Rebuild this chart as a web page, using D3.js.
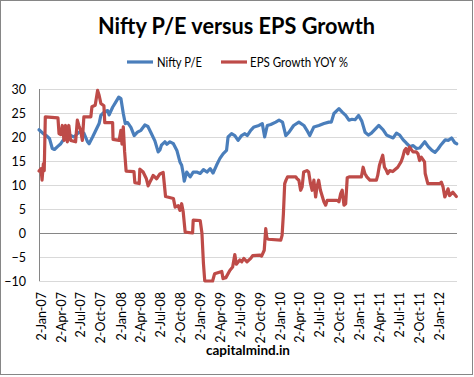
<!DOCTYPE html>
<html><head><meta charset="utf-8">
<script src="https://cdn.jsdelivr.net/npm/d3@7"></script>
<style>body{margin:0;background:#fff;} svg{display:block;}</style>
</head><body>
<svg id="c" width="474" height="377"></svg>
<script>
const title = "Nifty P/E versus EPS Growth";
const seriesNames = ["Nifty P/E", "EPS Growth YOY %"];
const sourceLabel = "capitalmind.in";
const yTicks = [-10, -5, 0, 5, 10, 15, 20, 25, 30];
const xTickDates = ["2007-01-02","2007-04-02","2007-07-02","2007-10-02","2008-01-02","2008-04-02","2008-07-02","2008-10-02","2009-01-02","2009-04-02","2009-07-02","2009-10-02","2010-01-02","2010-04-02","2010-07-02","2010-10-02","2011-01-02","2011-04-02","2011-07-02","2011-10-02","2012-01-02"];
const xTickLabels = ["2-Jan-07","2-Apr-07","2-Jul-07","2-Oct-07","2-Jan-08","2-Apr-08","2-Jul-08","2-Oct-08","2-Jan-09","2-Apr-09","2-Jul-09","2-Oct-09","2-Jan-10","2-Apr-10","2-Jul-10","2-Oct-10","2-Jan-11","2-Apr-11","2-Jul-11","2-Oct-11","2-Jan-12"];

const peDates = ["2007-01-02","2007-01-19","2007-02-04","2007-02-19","2007-03-04","2007-03-14","2007-03-28","2007-04-12","2007-04-27","2007-05-12","2007-05-27","2007-06-12","2007-06-27","2007-07-12","2007-07-27","2007-08-13","2007-08-20","2007-09-05","2007-09-20","2007-10-05","2007-10-13","2007-10-28","2007-11-13","2007-11-20","2007-12-06","2007-12-21","2008-01-03","2008-01-13","2008-01-24","2008-02-02","2008-02-13","2008-02-28","2008-03-14","2008-03-29","2008-04-14","2008-05-02","2008-05-16","2008-05-29","2008-06-17","2008-07-02","2008-07-10","2008-07-17","2008-08-02","2008-08-11","2008-08-25","2008-09-10","2008-09-26","2008-10-10","2008-10-18","2008-10-25","2008-10-30","2008-11-10","2008-11-26","2008-12-10","2008-12-26","2009-01-11","2009-01-26","2009-02-11","2009-02-26","2009-03-11","2009-03-27","2009-04-11","2009-04-26","2009-05-12","2009-05-19","2009-06-04","2009-06-19","2009-07-04","2009-07-20","2009-08-04","2009-08-15","2009-08-31","2009-09-15","2009-10-08","2009-10-23","2009-11-03","2009-11-15","2009-12-01","2009-12-24","2010-01-08","2010-01-24","2010-02-08","2010-02-23","2010-03-16","2010-04-09","2010-05-02","2010-05-16","2010-05-29","2010-06-17","2010-07-10","2010-08-02","2010-08-25","2010-09-05","2010-09-17","2010-10-10","2010-10-25","2010-11-10","2010-11-25","2010-12-09","2010-12-23","2011-01-08","2011-01-23","2011-02-07","2011-02-22","2011-03-08","2011-03-31","2011-04-11","2011-05-01","2011-05-17","2011-05-31","2011-06-16","2011-07-01","2011-07-16","2011-08-01","2011-08-16","2011-09-01","2011-09-16","2011-10-01","2011-10-16","2011-11-08","2011-11-24","2011-12-11","2011-12-25","2012-01-08","2012-01-22","2012-02-10","2012-02-25","2012-03-10","2012-03-25","2012-04-03"];
const peValues = [21.5,20.8,20.3,19.7,17.6,17.4,18.0,18.6,19.6,20.0,20.3,20.0,20.7,21.2,20.8,19.0,18.6,20.0,21.4,22.8,24.5,25.2,25.5,24.6,26.2,27.3,28.3,28.0,24.9,22.8,23.0,22.0,20.3,21.0,21.4,22.5,22.2,21.0,19.2,16.9,17.3,18.3,19.0,18.5,19.0,18.6,17.2,14.8,14.1,12.4,10.8,12.7,11.7,12.7,12.7,12.4,13.2,12.7,13.4,12.5,14.1,15.5,16.5,17.2,20.0,20.7,20.3,19.3,20.3,20.7,20.3,21.4,22.1,22.4,22.8,20.0,22.4,22.6,23.1,23.5,23.1,20.3,21.0,22.4,23.1,22.4,21.4,20.3,22.1,22.4,22.8,23.1,23.1,24.9,25.9,25.2,24.5,23.5,23.7,23.6,24.5,23.3,21.0,20.4,20.8,21.9,22.4,21.5,20.4,20.1,19.8,20.8,20.4,19.4,18.7,18.0,18.2,17.6,17.7,19.0,18.0,17.2,16.8,17.5,18.4,19.4,19.3,19.8,18.8,18.6];

const epsDates = ["2007-01-02","2007-01-11","2007-01-16","2007-01-22","2007-01-26","2007-01-31","2007-03-30","2007-04-04","2007-04-12","2007-04-19","2007-04-27","2007-05-04","2007-05-12","2007-05-19","2007-05-27","2007-06-19","2007-06-27","2007-07-04","2007-07-12","2007-07-20","2007-07-27","2007-08-28","2007-09-02","2007-09-17","2007-09-23","2007-09-28","2007-10-05","2007-10-13","2007-10-27","2007-10-31","2007-12-06","2007-12-08","2008-01-05","2008-01-13","2008-01-18","2008-01-24","2008-01-30","2008-02-06","2008-03-13","2008-03-17","2008-04-06","2008-04-09","2008-04-24","2008-05-09","2008-05-17","2008-05-24","2008-06-02","2008-06-09","2008-06-25","2008-07-10","2008-07-25","2008-08-05","2008-09-10","2008-09-18","2008-10-02","2008-10-10","2008-10-18","2008-10-25","2008-11-03","2008-12-07","2008-12-10","2009-01-11","2009-01-19","2009-01-26","2009-02-01","2009-03-09","2009-03-18","2009-04-20","2009-04-26","2009-05-09","2009-05-27","2009-06-09","2009-06-19","2009-06-26","2009-07-12","2009-07-21","2009-07-30","2009-08-14","2009-08-31","2009-09-09","2009-10-13","2009-10-20","2009-11-01","2009-11-08","2009-11-13","2009-11-19","2010-01-16","2010-01-22","2010-01-28","2010-02-03","2010-02-09","2010-02-16","2010-03-26","2010-04-01","2010-04-09","2010-04-17","2010-04-24","2010-05-01","2010-05-16","2010-05-24","2010-06-01","2010-06-09","2010-06-17","2010-06-25","2010-07-01","2010-07-09","2010-07-17","2010-08-02","2010-08-10","2010-08-17","2010-10-02","2010-10-10","2010-10-18","2010-10-25","2010-11-02","2010-11-10","2010-11-17","2010-11-28","2011-01-21","2011-01-29","2011-02-06","2011-02-15","2011-03-01","2011-03-31","2011-04-06","2011-04-14","2011-04-21","2011-04-29","2011-05-07","2011-05-14","2011-05-22","2011-05-31","2011-06-14","2011-07-07","2011-07-22","2011-07-30","2011-08-07","2011-08-14","2011-08-22","2011-08-30","2011-09-15","2011-09-30","2011-10-08","2011-10-15","2011-10-23","2011-11-07","2011-11-10","2011-11-22","2012-01-16","2012-01-23","2012-01-31","2012-02-08","2012-02-15","2012-02-23","2012-03-01","2012-03-16","2012-04-01"];
const epsValues = [12.9,13.4,11.0,14.4,13.0,24.2,24.0,20.7,20.5,22.4,19.3,22.4,19.0,22.4,19.3,19.0,23.5,22.4,21.4,19.3,24.2,24.2,26.3,26.6,28.3,29.7,28.7,27.0,26.5,23.0,23.0,19.5,19.3,21.4,18.5,22.1,17.0,12.9,12.8,10.5,10.3,13.3,12.7,11.3,9.8,10.5,11.3,12.0,11.3,12.3,12.6,7.6,7.2,5.4,5.7,4.7,6.1,4.4,0.2,0.0,2.7,2.6,0.0,-6.4,-10.0,-10.0,-8.5,-8.0,-9.5,-9.3,-7.8,-7.1,-4.5,-6.5,-5.6,-6.0,-5.3,-6.0,-5.3,-4.7,-4.6,-4.8,-3.6,0.9,-1.0,-1.3,-1.5,-0.5,4.0,10.3,11.0,11.7,11.7,11.3,11.0,8.9,9.6,12.7,13.0,12.7,10.4,8.9,11.0,7.5,9.6,11.0,8.9,6.5,5.8,6.8,6.8,6.5,8.2,8.9,5.8,6.1,11.5,11.7,11.7,13.7,12.4,11.7,11.0,11.0,12.0,14.1,15.1,16.2,13.7,13.2,12.4,13.0,12.8,13.7,14.8,15.8,17.2,17.6,16.5,17.9,16.9,16.9,16.5,15.1,15.8,14.8,12.4,10.3,10.3,10.6,9.6,7.5,8.2,9.2,7.8,8.5,7.6];

const parse = d3.utcParse("%Y-%m-%d");
const FONT = "Lato, 'Open Sans', sans-serif";
const svg = d3.select("#c");
const W = 474, H = 377;

svg.append("rect").attr("x", 0.5).attr("y", 0.5).attr("width", 472).attr("height", 374)
  .attr("fill", "#fff").attr("stroke", "#868686").attr("stroke-width", 1);

const plot = {left: 39, right: 457, top: 89, bottom: 281};
const x = d3.scaleUtc().domain([parse("2007-01-02"), parse("2012-04-04")]).range([plot.left, plot.right]);
const y = d3.scaleLinear().domain([-10, 30]).range([plot.bottom, plot.top]);

// gridlines
svg.append("g").selectAll("line").data(yTicks.filter(t => t !== 0)).join("line")
  .attr("x1", plot.left).attr("x2", plot.right)
  .attr("y1", d => Math.round(y(d)) + 0.5).attr("y2", d => Math.round(y(d)) + 0.5)
  .attr("stroke", "#d9d9d9").attr("stroke-width", 1);

// y axis
const yAxis = d3.axisLeft(y).tickValues(yTicks).tickSize(0).tickPadding(0);
const yg = svg.append("g").attr("transform", `translate(${plot.left - 13},0)`).call(yAxis);
yg.select(".domain").remove();
yg.selectAll("text").attr("font-family", FONT).attr("font-size", 12.5).attr("fill", "#000");
svg.append("line").attr("x1", plot.left + 0.5).attr("x2", plot.left + 0.5)
  .attr("y1", plot.top).attr("y2", plot.bottom).attr("stroke", "#868686");
// zero line
svg.append("line").attr("x1", plot.left).attr("x2", plot.right)
  .attr("y1", Math.round(y(0)) + 0.5).attr("y2", Math.round(y(0)) + 0.5)
  .attr("stroke", "#868686").attr("stroke-width", 1);

// x axis labels (rotated)
const xAxis = d3.axisBottom(x).tickValues(xTickDates.map(parse))
  .tickFormat((d, i) => xTickLabels[i]).tickSize(0).tickPadding(0);
const xg = svg.append("g").attr("transform", `translate(0,${plot.bottom})`).call(xAxis);
xg.select(".domain").remove();
xg.selectAll("text")
  .attr("font-family", FONT).attr("font-size", 12.5).attr("fill", "#000")
  .attr("text-anchor", "end").attr("dy", null).attr("y", 0)
  .attr("dominant-baseline", "central")
  .attr("transform", "translate(2,11) rotate(-90)");

// lines
const line = d3.line().x(d => x(d[0])).y(d => y(d[1]));
const peData = peDates.map((d, i) => [parse(d), peValues[i]]);
const epsData = epsDates.map((d, i) => [parse(d), epsValues[i]]);
const colors = ["#4a7ebb", "#be4b48"];
svg.append("path").datum(peData).attr("d", line).attr("fill", "none")
  .attr("stroke", colors[0]).attr("stroke-width", 3.2).attr("stroke-linejoin", "round").attr("stroke-linecap", "round");
svg.append("path").datum(epsData).attr("d", line).attr("fill", "none")
  .attr("stroke", colors[1]).attr("stroke-width", 3.2).attr("stroke-linejoin", "round").attr("stroke-linecap", "round");

// title
svg.append("text").attr("x", 236.5).attr("y", 34).attr("text-anchor", "middle")
  .attr("font-family", FONT).attr("font-weight", "bold").attr("font-size", 23)
  .attr("textLength", 277).attr("lengthAdjust", "spacingAndGlyphs")
  .text(title);

// legend
const legendItems = [{x: 127, tx: 157, w: 45}, {x: 221, tx: 250, w: 98}];
legendItems.forEach((it, i) => {
  svg.append("line").attr("x1", it.x).attr("x2", it.x + 26).attr("y1", 62).attr("y2", 62)
    .attr("stroke", colors[i]).attr("stroke-width", 3.2);
  svg.append("text").attr("x", it.tx).attr("y", 66.5).attr("font-family", FONT)
    .attr("font-size", 12.5).attr("textLength", it.w).attr("lengthAdjust", "spacingAndGlyphs")
    .text(seriesNames[i]);
});

// source label
svg.append("text").attr("x", 248).attr("y", 355).attr("text-anchor", "middle")
  .attr("font-family", FONT).attr("font-weight", "bold").attr("font-size", 13.5)
  .text(sourceLabel);
</script>
</body></html>
